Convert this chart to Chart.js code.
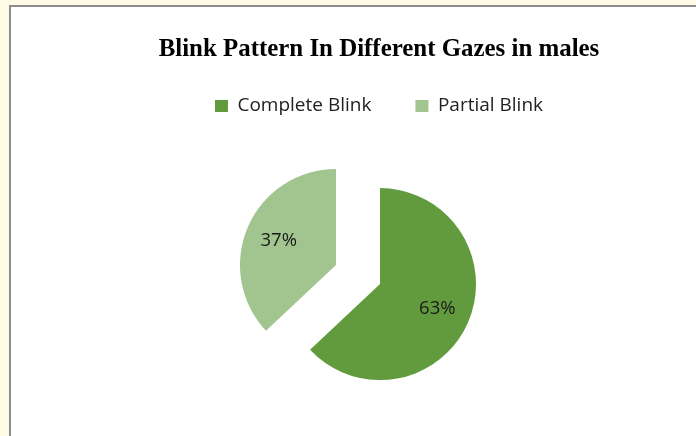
<!DOCTYPE html>
<html>
<head>
<meta charset="utf-8">
<script src="https://cdn.jsdelivr.net/npm/chart.js@4"></script>
<style>
  html, body { margin: 0; padding: 0; }
  body { width: 696px; height: 436px; background: #fffae6; position: relative; overflow: hidden; }
  .sheet { position: absolute; left: 9px; top: 5px; right: 0; bottom: 0; background: #fff; border-left: 2px solid #8c8c8c; border-top: 2px solid #8c8c8c; }
  .wrap { position: absolute; left: 0; top: 0; width: 696px; height: 436px; }
</style>
</head>
<body>
<div class="sheet"></div>
<div class="wrap"><canvas id="blinkChart"></canvas></div>
<script>
// chart data
const categories = ['Complete Blink', 'Partial Blink'];
const shares = [63, 37];
const sliceColors = ['#629b3e', '#a2c590'];

const EXPLODE = 24;      // how far each slice is pulled out
const PIE_SHIFT = 42;    // empty strip on the right, moves the pie left of the title

// pulls every slice out along its middle angle (plain translate, like Excel's explosion)
const explodeSlices = {
  id: 'explodeSlices',
  beforeDatasetDraw(chart, args) {
    const ctx = chart.ctx;
    args.meta.data.forEach(arc => {
      const mid = (arc.startAngle + arc.endAngle) / 2;
      ctx.save();
      ctx.translate(Math.cos(mid) * EXPLODE, Math.sin(mid) * EXPLODE);
      arc.draw(ctx, chart.chartArea);
      ctx.restore();
    });
    return false;
  }
};

// writes the % value inside each slice
const sliceLabels = {
  id: 'sliceLabels',
  afterDatasetsDraw(chart) {
    const ctx = chart.ctx;
    const meta = chart.getDatasetMeta(0);
    const total = shares.reduce((a, b) => a + b, 0);
    ctx.save();
    ctx.font = '18.5px "Open Sans"';
    ctx.fillStyle = '#1a1a1a';
    ctx.textAlign = 'center';
    ctx.textBaseline = 'middle';
    meta.data.forEach((arc, i) => {
      const mid = (arc.startAngle + arc.endAngle) / 2;
      const r = EXPLODE + arc.outerRadius * 0.65;
      ctx.fillText(Math.round(shares[i] / total * 100) + '%',
        arc.x + Math.cos(mid) * r, arc.y + Math.sin(mid) * r);
    });
    ctx.restore();
  }
};

// empty layout box on the right so the plot area sits a bit left of title/legend
const pieSpacer = {
  id: 'pieSpacer',
  beforeInit(chart) {
    Chart.layouts.addBox(chart, {
      position: 'right',
      fullSize: false,
      weight: 0,
      options: {},
      left: 0, top: 0, right: 0, bottom: 0, width: 0, height: 0,
      isHorizontal() { return false; },
      update(maxWidth, maxHeight) { this.width = PIE_SHIFT; this.height = maxHeight; },
      draw() {}
    });
  }
};

const ctx = document.getElementById('blinkChart');
new Chart(ctx.getContext('2d'), {
  type: 'pie',
  data: {
    labels: categories,
    datasets: [{
      data: shares,
      backgroundColor: sliceColors,
      borderWidth: 0,
      radius: 96,
      clip: false
    }]
  },
  options: {
    responsive: true,
    maintainAspectRatio: false,
    animation: false,
    layout: {
      padding: { left: 62, right: 0, top: 0, bottom: 12.3 }
    },
    plugins: {
      title: {
        display: true,
        text: 'Blink Pattern In Different Gazes in males',
        color: '#000',
        font: { family: '"Liberation Serif", "Times New Roman", serif', size: 24.9, weight: 'bold', lineHeight: 0.2 },
        padding: { top: 47.5, bottom: 0 }
      },
      legend: {
        position: 'top',
        labels: {
          boxWidth: 13,
          boxHeight: 12,
          padding: 44,
          color: '#222',
          font: { family: '"Open Sans"', size: 19 }
        }
      },
      tooltip: { enabled: false }
    }
  },
  plugins: [pieSpacer, explodeSlices, sliceLabels]
});
</script>
</body>
</html>
